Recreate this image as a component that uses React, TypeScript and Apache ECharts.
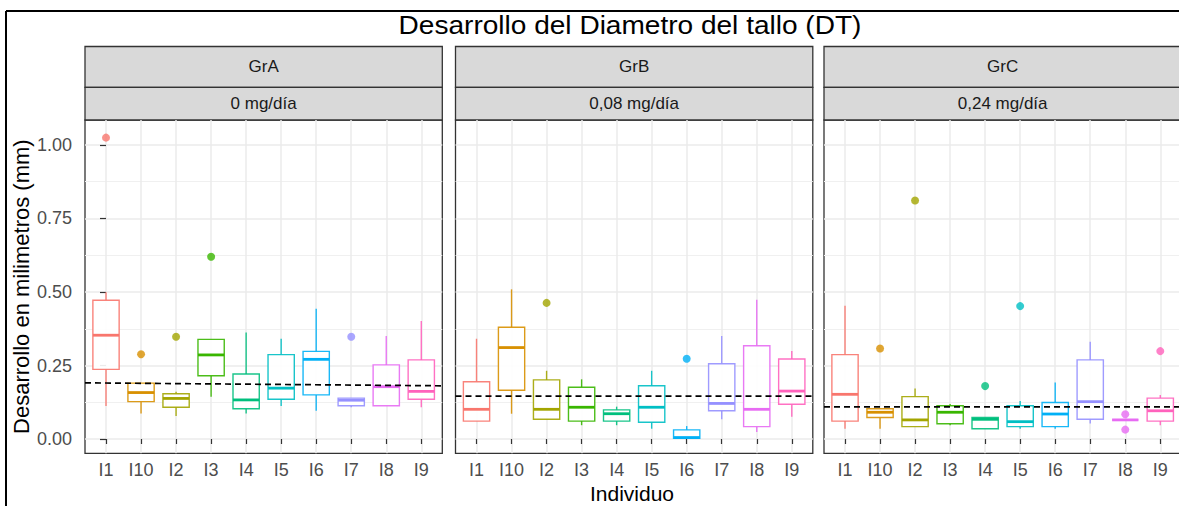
import React, { useEffect, useRef } from "react";
import * as echarts from "echarts";

// Individuals (alphabetical order, as on the axis)
const individuals = ["I1", "I10", "I2", "I3", "I4", "I5", "I6", "I7", "I8", "I9"];
const groups = ["GrA", "GrB", "GrC"];
const doses = ["0 mg/día", "0,08 mg/día", "0,24 mg/día"];
const palette = [
  "#F8766D", "#D89000", "#A3A500", "#39B600", "#00BF7D",
  "#00BFC4", "#00B0F6", "#9590FF", "#E76BF3", "#FF62BC",
];

// Box statistics per individual: [lower whisker, Q1, median, Q3, upper whisker] (mm)
const statsGrA = [
  [0.112, 0.237, 0.353, 0.472, 0.499],
  [0.087, 0.127, 0.158, 0.19, 0.19],
  [0.078, 0.108, 0.138, 0.154, 0.161],
  [0.144, 0.215, 0.286, 0.339, 0.339],
  [0.087, 0.103, 0.133, 0.221, 0.362],
  [0.112, 0.135, 0.173, 0.287, 0.341],
  [0.096, 0.15, 0.271, 0.298, 0.443],
  [0.108, 0.113, 0.132, 0.139, 0.139],
  [0.113, 0.113, 0.178, 0.252, 0.35],
  [0.108, 0.135, 0.162, 0.269, 0.401],
];
const statsGrB = [
  [0.061, 0.061, 0.101, 0.195, 0.341],
  [0.086, 0.166, 0.311, 0.38, 0.509],
  [0.067, 0.067, 0.101, 0.201, 0.232],
  [0.047, 0.061, 0.108, 0.176, 0.203],
  [0.047, 0.061, 0.086, 0.099, 0.11],
  [0.035, 0.057, 0.108, 0.181, 0.232],
  [0.002, 0.002, 0.005, 0.031, 0.044],
  [0.067, 0.096, 0.121, 0.256, 0.35],
  [0.024, 0.042, 0.101, 0.317, 0.474],
  [0.076, 0.118, 0.163, 0.272, 0.299],
];
const statsGrC = [
  [0.035, 0.061, 0.152, 0.287, 0.453],
  [0.035, 0.073, 0.091, 0.103, 0.103],
  [0.042, 0.042, 0.065, 0.144, 0.172],
  [0.047, 0.052, 0.091, 0.113, 0.119],
  [0.035, 0.035, 0.067, 0.073, 0.073],
  [0.035, 0.042, 0.059, 0.113, 0.129],
  [0.035, 0.042, 0.085, 0.124, 0.192],
  [0.053, 0.067, 0.127, 0.269, 0.331],
  [0.065, 0.065, 0.065, 0.065, 0.065],
  [0.047, 0.061, 0.096, 0.139, 0.15],
];

// Outlying observations: [individual index, value]
const outliersGrA = [[0, 1.025], [1, 0.288], [2, 0.348], [3, 0.62], [7, 0.348]];
const outliersGrB = [[2, 0.463], [6, 0.273]];
const outliersGrC = [[1, 0.308], [2, 0.811], [4, 0.18], [5, 0.452], [8, 0.084], [8, 0.032], [9, 0.299]];

// Dashed group reference line: value at the left and right panel edges
const refGrA = [0.191, 0.181];
const refGrB = [0.146, 0.146];
const refGrC = [0.109, 0.109];

const yTicks = [0, 0.25, 0.5, 0.75, 1.0];
const yMinorTicks = [0.125, 0.375, 0.625, 0.875];

const Y_MIN = -0.0486;
const Y_MAX = 1.085;
const X_MIN = -0.6;
const X_MAX = 9.6;

const FONT = "'Liberation Sans', Arial, sans-serif";

const PANEL_LEFT = [85, 455.5, 824];
const PANEL_TOP = 120;
const PANEL_W = 357.3;
const PANEL_H = 333.3;
const STRIP1_TOP = 46.5;
const STRIP2_TOP = 87.3;

function buildOption() {
  const stats = [statsGrA, statsGrB, statsGrC];
  const outliers = [outliersGrA, outliersGrB, outliersGrC];
  const refs = [refGrA, refGrB, refGrC];
  const xIdx = individuals.map((_, i) => i);

  const grid: any[] = [];
  const xAxis: any[] = [];
  const yAxis: any[] = [];
  const series: any[] = [];
  const graphic: any[] = [];

  groups.forEach((g, p) => {
    grid.push({
      left: PANEL_LEFT[p],
      top: PANEL_TOP,
      width: PANEL_W,
      height: PANEL_H,
      show: true,
      backgroundColor: "#ffffff",
      borderColor: "#333333",
      borderWidth: 1.3,
      outerBoundsMode: "none",
    });
    xAxis.push({
      type: "value",
      gridIndex: p,
      min: X_MIN,
      max: X_MAX,
      axisLine: { show: false },
      axisTick: {
        show: true,
        customValues: xIdx,
        length: 5,
        lineStyle: { color: "#333333", width: 1.2 },
      },
      axisLabel: {
        show: true,
        customValues: xIdx,
        formatter: (v: number) => individuals[Math.round(v)] ?? "",
        color: "#4D4D4D",
        fontSize: 18,
        fontFamily: FONT,
        margin: 8,
      },
      splitLine: { show: true, lineStyle: { color: "#EBEBEB", width: 1.5 } },
    });
    // major horizontal grid + labels
    yAxis.push({
      type: "value",
      gridIndex: p,
      min: Y_MIN,
      max: Y_MAX,
      axisLine: { show: false },
      axisTick: {
        show: p === 0,
        customValues: yTicks,
        length: 6,
        lineStyle: { color: "#333333", width: 1.2 },
      },
      axisLabel: {
        show: p === 0,
        customValues: yTicks,
        formatter: (v: number) => v.toFixed(2),
        color: "#4D4D4D",
        fontSize: 18,
        fontFamily: FONT,
        margin: 13,
      },
      splitLine: { show: true, lineStyle: { color: "#EBEBEB", width: 1.5 } },
    });
    // minor horizontal grid
    yAxis.push({
      type: "value",
      gridIndex: p,
      position: "left",
      min: Y_MIN,
      max: Y_MAX,
      axisLine: { show: false },
      axisTick: { show: false, customValues: yMinorTicks },
      axisLabel: { show: false, customValues: yMinorTicks },
      splitLine: { show: true, lineStyle: { color: "#F0F0F0", width: 1 } },
    });

    const yMain = p * 2;

    series.push({
      type: "custom",
      name: g + " boxes",
      xAxisIndex: p,
      yAxisIndex: yMain,
      encode: { x: 0, y: [1, 2, 3, 4, 5] },
      data: stats[p].map((s, i) => [i, ...s]),
      renderItem: (params: any, api: any) => {
        const i = api.value(0);
        const lo = api.coord([i, api.value(1)]);
        const q1 = api.coord([i, api.value(2)]);
        const med = api.coord([i, api.value(3)]);
        const q3 = api.coord([i, api.value(4)]);
        const hi = api.coord([i, api.value(5)]);
        const bw = api.size([0.75, 0])[0];
        const c = palette[i];
        const cx = lo[0];
        return {
          type: "group",
          children: [
            {
              type: "line",
              shape: { x1: cx, y1: lo[1], x2: cx, y2: q1[1] },
              style: { stroke: c, lineWidth: 1.4, opacity: 0.9 },
            },
            {
              type: "line",
              shape: { x1: cx, y1: q3[1], x2: cx, y2: hi[1] },
              style: { stroke: c, lineWidth: 1.4, opacity: 0.9 },
            },
            {
              type: "rect",
              shape: { x: cx - bw / 2, y: q3[1], width: bw, height: q1[1] - q3[1] },
              style: { fill: "#ffffff", stroke: c, lineWidth: 1.4, opacity: 0.9 },
            },
            {
              type: "line",
              shape: { x1: cx - bw / 2, y1: med[1], x2: cx + bw / 2, y2: med[1] },
              style: { stroke: c, lineWidth: 2.8 },
            },
          ],
        };
      },
      z: 2,
    });

    series.push({
      type: "scatter",
      name: g + " outliers",
      xAxisIndex: p,
      yAxisIndex: yMain,
      symbol: "circle",
      symbolSize: 8,
      data: outliers[p].map(([i, v]) => ({ value: [i, v], itemStyle: { color: palette[i] } })),
      z: 3,
    });

    series.push({
      type: "line",
      name: g + " reference",
      xAxisIndex: p,
      yAxisIndex: yMain,
      symbol: "none",
      data: [
        [X_MIN, refs[p][0]],
        [X_MAX, refs[p][1]],
      ],
      lineStyle: { color: "#000000", width: 1.7, type: [6, 4] },
      z: 4,
    });

    // facet strips
    const L = PANEL_LEFT[p];
    graphic.push({
      type: "rect",
      shape: { x: L, y: STRIP1_TOP, width: PANEL_W, height: STRIP2_TOP - STRIP1_TOP },
      style: { fill: "#D9D9D9", stroke: "#333333", lineWidth: 1.3 },
    });
    graphic.push({
      type: "rect",
      shape: { x: L, y: STRIP2_TOP, width: PANEL_W, height: PANEL_TOP - STRIP2_TOP },
      style: { fill: "#D9D9D9", stroke: "#333333", lineWidth: 1.3 },
    });
    graphic.push({
      type: "text",
      x: L + PANEL_W / 2,
      y: (STRIP1_TOP + STRIP2_TOP) / 2,
      style: {
        text: g,
        align: "center",
        verticalAlign: "middle",
        fontSize: 17,
        fontFamily: FONT,
        fill: "#1A1A1A",
      },
    });
    graphic.push({
      type: "text",
      x: L + PANEL_W / 2,
      y: (STRIP2_TOP + PANEL_TOP) / 2,
      style: {
        text: doses[p],
        align: "center",
        verticalAlign: "middle",
        fontSize: 17,
        fontFamily: FONT,
        fill: "#1A1A1A",
      },
    });
  });

  // title, axis titles and outer frame
  graphic.push({
    type: "text",
    x: 630,
    y: 25,
    scaleX: 1.1,
    style: {
      text: "Desarrollo del Diametro del tallo (DT)",
      align: "center",
      verticalAlign: "middle",
      fontSize: 25.5,
      fontFamily: FONT,
      fill: "#000000",
    },
  });
  graphic.push({
    type: "text",
    x: 21,
    y: PANEL_TOP + PANEL_H / 2,
    rotation: Math.PI / 2,
    style: {
      text: "Desarrollo en milimetros (mm)",
      align: "center",
      verticalAlign: "middle",
      fontSize: 22,
      fontFamily: FONT,
      fill: "#000000",
    },
  });
  graphic.push({
    type: "text",
    x: 632,
    y: 493,
    style: {
      text: "Individuo",
      align: "center",
      verticalAlign: "middle",
      fontSize: 21,
      fontFamily: FONT,
      fill: "#000000",
    },
  });
  graphic.push({
    type: "line",
    shape: { x1: 6, y1: 11, x2: 1179, y2: 11 },
    style: { stroke: "#000000", lineWidth: 2 },
  });
  graphic.push({
    type: "line",
    shape: { x1: 6, y1: 11, x2: 6, y2: 506 },
    style: { stroke: "#000000", lineWidth: 2 },
  });

  return {
    animation: false,
    backgroundColor: "#ffffff",
    textStyle: { fontFamily: FONT },
    grid,
    xAxis,
    yAxis,
    series,
    graphic,
  };
}

export default function App() {
  const ref = useRef<HTMLDivElement>(null);
  useEffect(() => {
    if (!ref.current) return;
    const chart = echarts.init(ref.current, null, { renderer: "svg" });
    chart.setOption(buildOption() as any);
    return () => chart.dispose();
  }, []);
  return (
    <div
      ref={ref}
      style={{ position: "absolute", left: 0, top: 0, width: 1179, height: 506, background: "#ffffff" }}
    />
  );
}
